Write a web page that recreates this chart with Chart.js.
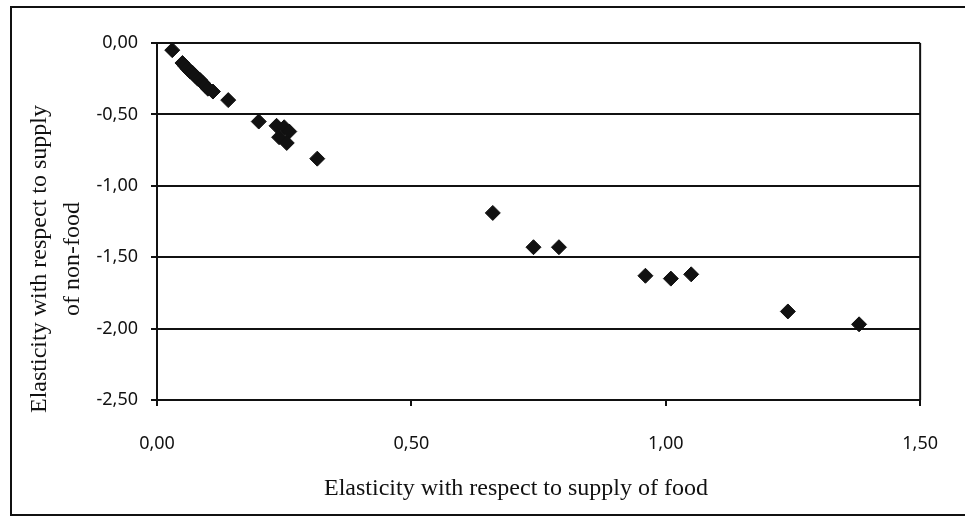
<!DOCTYPE html>
<html>
<head>
<meta charset="utf-8">
<script src="https://cdn.jsdelivr.net/npm/chart.js@4/dist/chart.umd.min.js"></script>
<style>
  body { margin: 0; background: #fff; }
  #wrap { position: relative; width: 965px; height: 525px; overflow: hidden; }
  #frame { position: absolute; left: 10px; top: 6px; width: 970px; height: 510px; border: 2px solid #111; box-sizing: border-box; }
  canvas { position: absolute; left: 0; top: 0; }
</style>
</head>
<body>
<div id="wrap">
  <div id="frame"></div>
  <canvas id="chart" width="965" height="525"></canvas>
</div>
<script>
// elasticity wrt supply of food (x) vs supply of non-food (y)
const foodElast = [0.03, 0.05, 0.055, 0.06, 0.065, 0.07, 0.075, 0.08, 0.085, 0.09, 0.095, 0.10, 0.11,
    0.14, 0.20, 0.235, 0.25, 0.26, 0.24, 0.255, 0.315,
    0.66, 0.74, 0.79, 0.96, 1.01, 1.05, 1.24, 1.38];
const nonFoodElast = [-0.05, -0.14, -0.16, -0.18, -0.20, -0.21, -0.23, -0.25, -0.26, -0.28, -0.30, -0.32, -0.34,
    -0.40, -0.55, -0.58, -0.59, -0.62, -0.66, -0.70, -0.81,
    -1.19, -1.43, -1.43, -1.63, -1.65, -1.62, -1.88, -1.97];
const xTitle = "Elasticity with respect to supply of food";
const yTitle = ["Elasticity with respect to supply", "of non-food"];

const points = foodElast.map((x, i) => ({ x: x, y: nonFoodElast[i] }));
const fmt = v => v.toFixed(2).replace(".", ",");

// box round the plot + axis titles drawn by hand so they sit where the original has them
const extras = {
    id: "extras",
    afterDraw(chart) {
        const { ctx, chartArea: a } = chart;
        ctx.save();
        ctx.strokeStyle = "#111";
        ctx.lineWidth = 2;
        ctx.beginPath();
        ctx.moveTo(a.right, a.top);
        ctx.lineTo(a.right, a.bottom);
        ctx.stroke();

        ctx.fillStyle = "#111";
        ctx.font = "24px 'Liberation Serif'";
        ctx.textAlign = "center";
        ctx.textBaseline = "alphabetic";
        ctx.fillText(xTitle, 516, 495);

        ctx.translate(0, 259);
        ctx.rotate(-Math.PI / 2);
        ctx.fillText(yTitle[0], 0, 46);
        ctx.fillText(yTitle[1], 0, 79);
        ctx.restore();
    }
};

new Chart(document.getElementById("chart"), {
    type: "scatter",
    data: {
        datasets: [{
            data: points,
            pointStyle: "rectRot",
            pointRadius: 7.5,
            pointBorderWidth: 1,
            backgroundColor: "#111",
            borderColor: "#111"
        }]
    },
    options: {
        responsive: false,
        animation: false,
        layout: { padding: { top: 43, right: 39, bottom: 0, left: 0 } },
        plugins: { legend: { display: false }, tooltip: { enabled: false } },
        scales: {
            x: {
                min: 0, max: 1.5,
                afterFit: s => { s.height = 125; },
                ticks: { stepSize: 0.5, callback: fmt, padding: 27, color: "#111",
                    font: { family: "'Noto Sans'", size: 18 } },
                grid: { drawOnChartArea: false, color: "#111", lineWidth: 2, tickLength: 6 },
                border: { color: "#111", width: 2 }
            },
            y: {
                min: -2.5, max: 0,
                afterFit: s => { s.width = 157; },
                ticks: { stepSize: 0.5, callback: fmt, padding: 13, color: "#111",
                    font: { family: "'Noto Sans'", size: 18 } },
                grid: { color: "#111", lineWidth: 2, tickLength: 6 },
                border: { color: "#111", width: 2 }
            }
        }
    },
    plugins: [extras]
});
</script>
</body>
</html>
